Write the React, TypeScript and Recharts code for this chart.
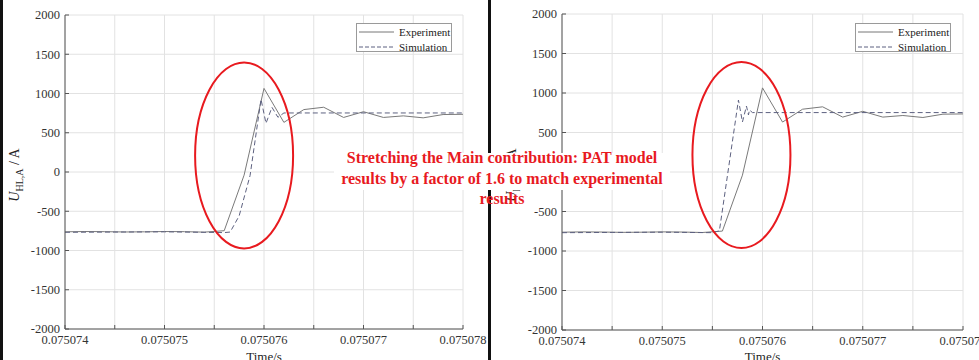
import React from "react";
import { Legend, Line, LineChart, CartesianGrid, ReferenceDot, XAxis, YAxis } from "recharts";

// time axis (s) and tick positions
const X_TICKS = [0.075074, 0.0750745, 0.075075, 0.0750755, 0.075076, 0.0750765, 0.075077, 0.0750775, 0.075078];
const Y_TICKS = [-2000, -1500, -1000, -500, 0, 500, 1000, 1500, 2000];

// measured current, same in both panels
const EXP_T = [
  0.075074, 0.0750742, 0.0750744, 0.0750746, 0.0750748, 0.075075, 0.0750752, 0.0750754, 0.0750756, 0.0750758,
  0.075076, 0.0750762, 0.0750764, 0.0750766, 0.0750768, 0.075077, 0.0750772, 0.0750774, 0.0750776, 0.0750778, 0.075078,
];
const EXP_V = [-762, -758, -760, -764, -762, -758, -760, -766, -748, -40, 1065, 632, 795, 825, 695, 768, 695, 715, 690, 732, 735];

// simulation, original (left)
const SIM1_T = [0.075074, 0.0750745, 0.075075, 0.0750755, 0.0750756, 0.07507566, 0.07507575, 0.07507586, 0.07507597, 0.07507602, 0.07507608, 0.07507614, 0.0750762, 0.075078];
const SIM1_V = [-768, -765, -762, -770, -772, -765, -560, -45, 926, 620, 824, 697, 752, 752];

// simulation, stretched by 1.6 (right)
const SIM2_T = [0.075074, 0.0750745, 0.075075, 0.0750755, 0.07507557, 0.07507576, 0.0750758, 0.07507584, 0.07507586, 0.07507587, 0.0750759, 0.075078];
const SIM2_V = [-768, -765, -762, -768, -745, 911, 633, 835, 722, 785, 752, 752];

const zip = (t: number[], v: number[]) => t.map((x, i) => ({ t: x, v: v[i] }));

const SERIF = "'Liberation Serif', 'Times New Roman', serif";
const RED = "#e81a1f";

const fmtX = (v: number) => (Math.round(v * 1e7) % 10 === 0 ? v.toFixed(6) : "");

function renderYTitle(props: any) {
  const vb = props.viewBox || { x: 0, y: 0, width: 0, height: 0 };
  const x = vb.x + vb.width - 46;
  const y = vb.y + vb.height / 2 + 3;
  return (
    <text x={x} y={y} transform={`rotate(-90, ${x}, ${y})`} textAnchor="middle" fontFamily={SERIF} fontSize={14} fill="#222">
      <tspan fontStyle="italic">U</tspan>
      <tspan fontSize={10} dy={4}>HL,A</tspan>
      <tspan dy={-4}> / A</tspan>
    </text>
  );
}

function LegendBox() {
  const row = (label: string, dash?: string, color = "#777") => (
    <div style={{ display: "flex", alignItems: "center", height: 15 }}>
      <svg width={38} height={6} style={{ marginRight: 4 }}>
        <line x1={2} x2={37} y1={3} y2={3} stroke={color} strokeWidth={1} strokeDasharray={dash} />
      </svg>
      <span>{label}</span>
    </div>
  );
  return (
    <div
      style={{
        border: "1px solid #9a9a9a",
        background: "#fff",
        fontFamily: SERIF,
        fontSize: 11,
        color: "#222",
        width: 96,
        height: 29,
        boxSizing: "border-box",
        lineHeight: "14px",
      }}
    >
      {row("Experiment")}
      {row("Simulation", "4 2", "#5d6180")}
    </div>
  );
}

interface PanelProps {
  left: number;
  width: number;
  height: number;
  axisW: number;
  mTop: number;
  mRight: number;
  xAxisH: number;
  sim: { t: number; v: number }[];
  ellipse: { t: number; v: number };
  legendLeft: number;
}

function Panel(p: PanelProps) {
  const tick = { fill: "#333", fontSize: 12.5, fontFamily: SERIF };
  return (
    <div style={{ position: "absolute", left: p.left, top: 0 }}>
      <LineChart width={p.width} height={p.height} margin={{ top: p.mTop, right: p.mRight, bottom: 0, left: 0 }}>
        <CartesianGrid xAxisId="b" yAxisId="l" stroke="#e2e2e2" strokeWidth={1} />
        <XAxis
          xAxisId="b"
          dataKey="t"
          type="number"
          domain={[0.075074, 0.075078]}
          ticks={X_TICKS}
          tickFormatter={fmtX}
          interval={0}
          allowDataOverflow
          height={p.xAxisH}
          tickSize={-4}
          tickMargin={10}
          tick={tick}
          stroke="#555"
          label={{ value: "Time/s", position: "insideBottom", offset: 8, fill: "#222", fontSize: 13, fontFamily: SERIF }}
        />
        <XAxis
          xAxisId="t"
          orientation="top"
          dataKey="t"
          type="number"
          domain={[0.075074, 0.075078]}
          ticks={X_TICKS}
          interval={0}
          allowDataOverflow
          height={0}
          tickSize={-4}
          tick={false}
          stroke="#555"
        />
        <YAxis
          yAxisId="l"
          dataKey="v"
          type="number"
          domain={[-2000, 2000]}
          ticks={Y_TICKS}
          interval={0}
          allowDataOverflow
          width={p.axisW}
          tickSize={-4}
          tickMargin={9}
          tick={tick}
          stroke="#555"
          label={renderYTitle}
        />
        <YAxis
          yAxisId="r"
          orientation="right"
          type="number"
          domain={[-2000, 2000]}
          ticks={Y_TICKS}
          interval={0}
          allowDataOverflow
          width={0}
          tickSize={-4}
          tick={false}
          stroke="#555"
        />
        <Legend
          layout="vertical"
          align="center"
          verticalAlign="middle"
          wrapperStyle={{ left: p.legendLeft, top: 23, width: 96, height: 29 }}
          content={() => <LegendBox />}
        />
        <Line
          xAxisId="b"
          yAxisId="l"
          data={zip(EXP_T, EXP_V)}
          dataKey="v"
          name="Experiment"
          type="linear"
          stroke="#7a7a7a"
          strokeWidth={1}
          dot={false}
          isAnimationActive={false}
        />
        <Line
          xAxisId="b"
          yAxisId="l"
          data={p.sim}
          dataKey="v"
          name="Simulation"
          type="linear"
          stroke="#5d6180"
          strokeWidth={1}
          strokeDasharray="5 3"
          dot={false}
          isAnimationActive={false}
        />
        <ReferenceDot
          xAxisId="b"
          yAxisId="l"
          x={p.ellipse.t}
          y={p.ellipse.v}
          shape={(s: any) => <ellipse cx={s.cx} cy={s.cy} rx={49} ry={93} fill="none" stroke={RED} strokeWidth={2} />}
        />
      </LineChart>
    </div>
  );
}

const NOTE = ["Stretching the Main contribution: PAT model", "results by a factor of 1.6 to match experimental", "results"];

export default function App() {
  return (
    <div style={{ position: "absolute", left: 0, top: 0, width: 979, height: 360, overflow: "hidden", background: "#fff" }}>
      <div style={{ position: "absolute", left: 0, top: 0, width: 3, height: 360, background: "#111" }} />
      <div style={{ position: "absolute", left: 488, top: 0, width: 3, height: 360, background: "#111" }} />
      <Panel
        left={0}
        width={489}
        height={369}
        axisW={65}
        mTop={15}
        mRight={26}
        xAxisH={40}
        sim={zip(SIM1_T, SIM1_V)}
        ellipse={{ t: 0.0750758, v: 211 }}
        legendLeft={356}
      />
      <Panel
        left={489}
        width={490}
        height={369}
        axisW={73}
        mTop={14}
        mRight={16}
        xAxisH={39}
        sim={zip(SIM2_T, SIM2_V)}
        ellipse={{ t: 0.07507579, v: 215 }}
        legendLeft={366}
      />
      <div style={{ position: "absolute", left: 334, top: 153, width: 336, height: 37, background: "#fff" }} />
      {NOTE.map((line, i) => (
        <div
          key={i}
          style={{
            position: "absolute",
            left: 334,
            top: 148 + i * 20.5,
            width: 336,
            height: 20.5,
            lineHeight: "20.5px",
            textAlign: "center",
            fontFamily: SERIF,
            fontWeight: "bold",
            fontSize: 16,
            color: RED,
            whiteSpace: "nowrap",
          }}
        >
          {line}
        </div>
      ))}
    </div>
  );
}
